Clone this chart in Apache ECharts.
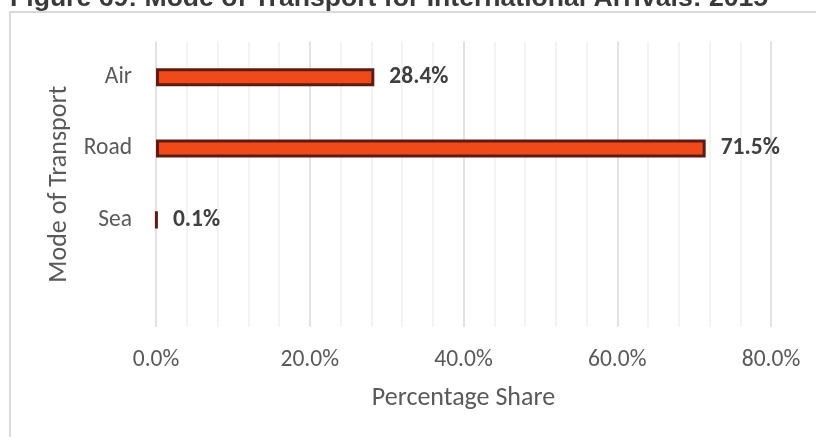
<!DOCTYPE html>
<html>
<head>
<meta charset="utf-8">
<script src="https://cdn.jsdelivr.net/npm/echarts@6/dist/echarts.min.js"></script>
<style>
  html, body { margin: 0; padding: 0; background: #ffffff; }
  #chart { width: 816px; height: 437px; }
</style>
</head>
<body>
<div id="chart"></div>
<script>
// Mode of transport and their share of international arrivals (%)
const categories = ['Air', 'Road', 'Sea', ''];
const shares = [28.4, 71.5, 0.1, null];
const xTicks = [0, 20, 40, 60, 80];

const figureTitle = 'Figure 69: Mode of Transport for International Arrivals: 2015';
const xTitle = 'Percentage Share';
const yTitle = 'Mode of Transport';

const labelFont = 'Carlito, Calibri, Lato, sans-serif';

const chart = echarts.init(document.getElementById('chart'), null, { renderer: 'canvas' });

chart.setOption({
  animation: false,
  backgroundColor: '#ffffff',
  graphic: [
    {
      type: 'rect',
      shape: { x: 10, y: 12, width: 900, height: 500 },
      style: { fill: 'none', stroke: '#d9d9d9', lineWidth: 2 },
      silent: true,
      z: 0
    },
    {
      type: 'text',
      x: 10,
      y: -1,
      style: {
        text: figureTitle,
        fill: '#3a3a3a',
        font: 'bold 26.6px "Liberation Sans", Arial, sans-serif',
        verticalAlign: 'middle',
        align: 'left'
      },
      silent: true
    }
  ],
  grid: {
    left: 156,
    right: 816 - 771,
    top: 41.5,
    bottom: 437 - 327,
    containLabel: false
  },
  xAxis: {
    type: 'value',
    min: 0,
    max: 80,
    interval: 20,
    axisLine: { show: false },
    axisTick: { show: false },
    axisLabel: {
      color: '#595959',
      fontFamily: labelFont,
      fontSize: 23.5,
      margin: 21,
      formatter: v => xTicks.includes(v) ? v.toFixed(1) + '%' : ''
    },
    splitLine: { show: true, lineStyle: { color: '#d9d9d9', width: 1.5 } },
    minorTick: { show: false, splitNumber: 5 },
    minorSplitLine: { show: true, lineStyle: { color: '#efefef', width: 1.5 } },
    name: xTitle,
    nameLocation: 'middle',
    nameGap: 58,
    nameTextStyle: { color: '#595959', fontFamily: labelFont, fontSize: 26 }
  },
  yAxis: {
    type: 'category',
    data: categories,
    inverse: true,
    axisLine: { show: false },
    axisTick: { show: false },
    axisLabel: {
      color: '#595959',
      fontFamily: labelFont,
      fontSize: 23.5,
      margin: 24
    },
    splitLine: { show: false },
    name: yTitle,
    nameLocation: 'middle',
    nameGap: 81,
    nameRotate: 90,
    nameTextStyle: { color: '#595959', fontFamily: labelFont, fontSize: 26 }
  },
  series: [
    {
      type: 'bar',
      data: shares,
      barWidth: 18,
      itemStyle: {
        color: '#f04a1a',
        borderColor: '#5c1c14',
        borderWidth: 3
      },
      label: {
        show: true,
        position: 'right',
        distance: 15,
        color: '#404040',
        fontFamily: labelFont,
        fontWeight: 'bold',
        fontSize: 23.5,
        formatter: p => p.value == null ? '' : p.value.toFixed(1) + '%'
      }
    }
  ]
});
</script>
</body>
</html>
